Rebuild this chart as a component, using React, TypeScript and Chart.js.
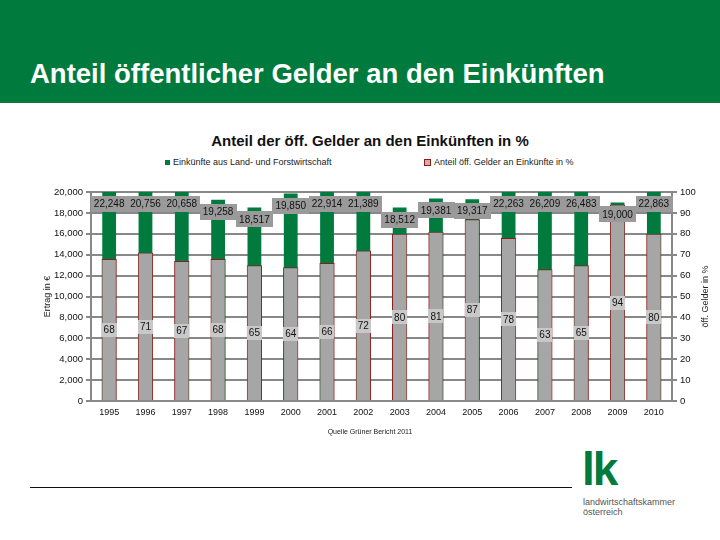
import React, { useEffect, useRef } from "react";
import { Chart, registerables } from "chart.js";

Chart.register(...registerables);

const years = ["1995", "1996", "1997", "1998", "1999", "2000", "2001", "2002", "2003", "2004", "2005", "2006", "2007", "2008", "2009", "2010"];
const einkuenfte = [22248, 20756, 20658, 19258, 18517, 19850, 22914, 21389, 18512, 19381, 19317, 22263, 26209, 26483, 19000, 22863];
const anteil = [68, 71, 67, 68, 65, 64, 66, 72, 80, 81, 87, 78, 63, 65, 94, 80];
const leftMax = 20000;
const leftStep = 2000;
const rightMax = 100;
const rightStep = 10;

const seriesNames = ["Einkünfte aus Land- und Forstwirtschaft", "Anteil öff. Gelder an Einkünfte in %"];
const pageTitle = "Anteil öffentlicher Gelder an den Einkünften";
const chartTitle = "Anteil der öff. Gelder an den Einkünften in %";
const leftAxisTitle = "Ertrag in €";
const rightAxisTitle = "öff. Gelder in %";
const sourceNote = "Quelle Grüner Bericht 2011";

const GREEN = "#007a3d";
const GRID = "#888888";
const FONT = '"Liberation Sans", Arial, sans-serif';

const fmt = (v: number) => v.toLocaleString("en-US");

function drawBox(ctx: CanvasRenderingContext2D, text: string, x: number, y: number, bg: string, padX: number, h: number) {
  const w = ctx.measureText(text).width + padX * 2;
  ctx.fillStyle = bg;
  ctx.fillRect(Math.round(x - w / 2), Math.round(y - h / 2), Math.round(w), h);
  ctx.fillStyle = "#111";
  ctx.fillText(text, x, y + 0.5);
}

const labelPlugin = {
  id: "valueLabels",
  afterDatasetsDraw(chart: any) {
    const ctx: CanvasRenderingContext2D = chart.ctx;
    const ys = chart.scales.y;
    const y1 = chart.scales.y1;
    const m0 = chart.getDatasetMeta(0);
    const m1 = chart.getDatasetMeta(1);
    ctx.save();
    ctx.font = `10px ${FONT}`;
    ctx.textAlign = "center";
    ctx.textBaseline = "middle";
    anteil.forEach((v, i) => {
      const el = m1.data[i];
      drawBox(ctx, String(v), el.x, y1.getPixelForValue(v / 2), "#c8c8c8", 2, 14);
    });
    einkuenfte.forEach((v, i) => {
      const el = m0.data[i];
      const top = ys.getPixelForValue(Math.min(v, leftMax));
      drawBox(ctx, fmt(v), el.x, top + 12, "#9a9a9a", 3, 16);
    });
    ctx.restore();
  },
  afterDraw(chart: any) {
    const ctx: CanvasRenderingContext2D = chart.ctx;
    const a = chart.chartArea;
    ctx.save();
    ctx.font = `9px ${FONT}`;
    ctx.fillStyle = "#222";
    ctx.textAlign = "center";
    ctx.textBaseline = "middle";
    ctx.translate(a.right + 34, (a.top + a.bottom) / 2);
    ctx.rotate(-Math.PI / 2);
    ctx.fillText(rightAxisTitle, 0, 0);
    ctx.restore();
  },
};

export default function App() {
  const ref = useRef<HTMLCanvasElement>(null);

  useEffect(() => {
    if (!ref.current) return;
    const chart = new Chart(ref.current, {
      type: "bar",
      data: {
        labels: years,
        datasets: [
          {
            label: seriesNames[0],
            data: einkuenfte,
            backgroundColor: GREEN,
            yAxisID: "y",
            grouped: false,
            order: 2,
            barPercentage: 0.38,
            categoryPercentage: 1,
          } as any,
          {
            label: seriesNames[1],
            data: anteil,
            backgroundColor: "#a6a6a6",
            borderColor: "#8b1c1c",
            borderWidth: 1,
            yAxisID: "y1",
            grouped: false,
            order: 1,
            barPercentage: 0.42,
            categoryPercentage: 1,
          } as any,
        ],
      },
      options: {
        responsive: false,
        animation: false,
        layout: { padding: { top: 22, left: 38, right: 0, bottom: 0 } },
        plugins: {
          legend: { display: false },
          title: { display: false },
          tooltip: { enabled: false },
        },
        scales: {
          x: {
            grid: { display: false, drawTicks: false, tickLength: 0 },
            border: { display: true, color: GRID, width: 2 },
            ticks: { color: "#111", font: { family: FONT, size: 9 }, padding: 6, maxRotation: 0 },
            afterFit: (s: any) => { s.height = 29; },
          },
          y: {
            position: "left",
            min: 0,
            max: leftMax,
            grid: { color: GRID, lineWidth: 2, tickLength: 5 },
            border: { display: true, color: GRID, width: 2 },
            ticks: { stepSize: leftStep, color: "#111", font: { family: FONT, size: 9.5 }, padding: 3, callback: (v: any) => fmt(Number(v)) },
            title: { display: true, text: leftAxisTitle, color: "#222", font: { family: FONT, size: 9 } },
            afterFit: (s: any) => { s.width = 53; },
          },
          y1: {
            position: "right",
            min: 0,
            max: rightMax,
            grid: { drawOnChartArea: false, color: GRID, lineWidth: 2, tickLength: 5 },
            border: { display: true, color: GRID, width: 2 },
            ticks: { stepSize: rightStep, color: "#111", font: { family: FONT, size: 9.5 }, padding: 3 },
            afterFit: (s: any) => { s.width = 48; },
          },
        },
      } as any,
      plugins: [labelPlugin],
    });
    return () => chart.destroy();
  }, []);

  return (
    <div style={{ position: "absolute", left: 0, top: 0, width: 720, height: 540, background: "#fff", overflow: "hidden", fontFamily: FONT }}>
      <div style={{ position: "absolute", left: 0, top: 0, width: 720, height: 103, background: GREEN }} />
      <div style={{ position: "absolute", left: 30, top: 60, fontSize: 27.5, lineHeight: "28px", fontWeight: "bold", color: "#fff", whiteSpace: "nowrap" }}>{pageTitle}</div>
      <div style={{ position: "absolute", left: 0, width: 740, top: 133, textAlign: "center", fontSize: 15, lineHeight: "15px", fontWeight: "bold", color: "#111", whiteSpace: "nowrap" }}>{chartTitle}</div>
      <div style={{ position: "absolute", left: 165, top: 156, fontSize: 9, lineHeight: "12px", color: "#222", whiteSpace: "nowrap", display: "flex", alignItems: "center" }}>
        <span style={{ display: "inline-block", width: 5, height: 5, background: GREEN, marginRight: 3 }} />
        {seriesNames[0]}
      </div>
      <div style={{ position: "absolute", left: 424, top: 156, fontSize: 9, lineHeight: "12px", color: "#222", whiteSpace: "nowrap", display: "flex", alignItems: "center" }}>
        <span style={{ display: "inline-block", width: 5, height: 5, background: "#d7a9a9", border: "1px solid #8b1c1c", marginRight: 3 }} />
        {seriesNames[1]}
      </div>
      <canvas ref={ref} width={720} height={260} style={{ position: "absolute", left: 0, top: 170, width: 720, height: 260 }} />
      <div style={{ position: "absolute", left: 0, width: 740, top: 427, textAlign: "center", fontSize: 7, lineHeight: "10px", color: "#222", whiteSpace: "nowrap" }}>{sourceNote}</div>
      <div style={{ position: "absolute", left: 30, top: 487, width: 542, height: 0, borderTop: "1.5px solid #111" }} />
      <div style={{ position: "absolute", left: 582, top: 446, fontSize: 46, lineHeight: "46px", fontWeight: "bold", color: GREEN, letterSpacing: -2 }}>lk</div>
      <div style={{ position: "absolute", left: 583, top: 497, fontSize: 9, lineHeight: "10px", color: "#555", whiteSpace: "nowrap" }}>landwirtschaftskammer</div>
      <div style={{ position: "absolute", left: 583, top: 507, fontSize: 9, lineHeight: "10px", color: "#555", whiteSpace: "nowrap" }}>österreich</div>
    </div>
  );
}
